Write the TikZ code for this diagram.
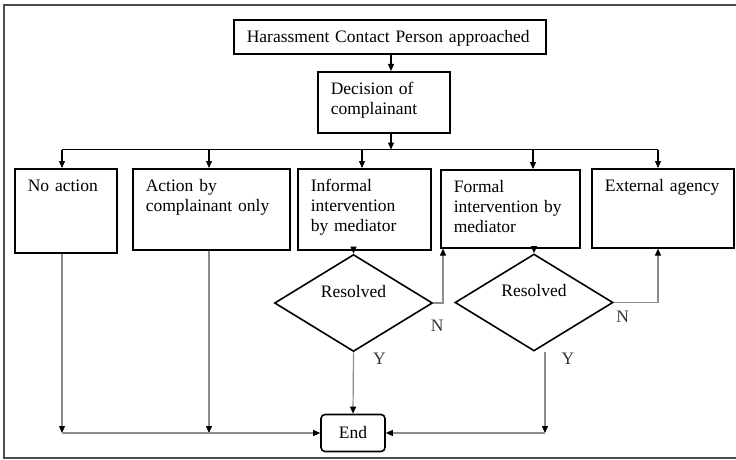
\documentclass[tikz,border=0pt]{standalone}
\usepackage{fontspec}
\setmainfont{Liberation Serif}
\usepackage{tikz}
\usetikzlibrary{arrows.meta,shapes.geometric,calc}
\definecolor{lineDraw}{HTML}{000000}
\definecolor{fadeDraw}{HTML}{8C8C8C}
\definecolor{frameDraw}{HTML}{4D4D4D}
\tikzset{
  font=\fontsize{17.5pt}{20pt}\selectfont,
  box/.style    ={draw=lineDraw, line width=1.6pt, anchor=north west, align=left,
                  inner xsep=13pt, inner ysep=0pt, text height=23pt},
  endbox/.style ={draw=lineDraw, line width=1.6pt, rounded corners=4pt,
                  minimum width=64pt, minimum height=37pt, inner sep=0pt},
  choice/.style ={diamond, draw=lineDraw, line width=1.6pt, aspect=1.63, inner sep=0pt,
                  minimum width=158pt, minimum height=97pt, text height=12pt, text depth=24pt},
  bus/.style    ={draw=lineDraw, line width=1.2pt},
  arr/.style    ={-{Triangle[length=7pt,width=6pt]}, line width=1.2pt},
  farr/.style   ={-{Triangle[length=7pt,width=6pt,color=black]}, draw=fadeDraw, line width=1.2pt},
  lbl/.style    ={inner sep=0pt, text=black!80},
  frame/.style  ={draw=frameDraw, line width=2.2pt},
}

\begin{document}
\begin{tikzpicture}[x=1pt,y=-1pt]
  \useasboundingbox (0,0) rectangle (736,460);
  \draw[frame] (740,5) -- (4,5) -- (4,458) -- (740,458);

  % first contact and decision
  \node[box, text width=286pt, text depth=11pt] (hcp) at (233,19)  {Harassment Contact Person approached};
  \node[box, text width=106pt, text depth=38pt] (dec) at (317,71)  {Decision of\\complainant};

  % bus and the five options
  \coordinate (bd) at (391,149.5);
  \coordinate (b1) at (62,149.5);
  \coordinate (b2) at (209,149.5);
  \coordinate (b3) at (362,149.5);
  \coordinate (b4) at (533,149.5);
  \coordinate (b5) at (658,149.5);
  \node[box, text width=76pt,  text depth=61pt] (noact)  at (14,168)  {No action};
  \node[box, text width=131pt, text depth=58pt] (act)    at (132,168) {Action by\\complainant only};
  \node[box, text width=107pt, text depth=58pt] (inf)    at (297,168) {Informal\\intervention\\by mediator};
  \node[box, text width=113pt, text depth=55pt] (formal) at (440,169) {Formal\\intervention by\\mediator};
  \node[box, text width=116pt, text depth=56pt] (ext)    at (591,168) {External agency};

  \draw[arr] (hcp.south -| bd) -- (dec.north -| bd);
  \draw[arr] (dec.south -| bd) -- (bd);
  \draw[bus] (b1) -- (b5);
  \foreach \b/\n in {b1/noact, b2/act, b3/inf, b4/formal, b5/ext}
    \draw[arr] (\b) -- (\b |- \n.north);

  % mediation outcomes
  \node[choice] (res1) at (353.5,303) {Resolved};
  \node[choice] (res2) at (534,302.5) {Resolved};
  \draw[arr] (res1.north |- inf.south) -- (res1.north);
  \draw[arr] (res2.north |- formal.south) -- (res2.north);

  \node[endbox] (end) at (353,433) {End};
  \coordinate (j1) at (62,433);
  \coordinate (j2) at (209,433);
  \coordinate (j3) at (545,433);

  \draw[farr] (b1 |- noact.south) -- (j1);
  \draw[farr] (b2 |- act.south) -- (j2);
  \draw[farr] (j1) -- (end);
  \draw[farr] (res1.south) -- node[lbl, pos=0.1, right=19pt] {Y} (end.north);
  \draw[farr] (res2.south -| j3) -- node[lbl, pos=0.08, right=16pt] {Y} (j3);
  \draw[farr] (j3) -- (end);
  \draw[farr] (res1.east) -| node[lbl, pos=0.2, below=16pt] {N} ([xshift=3pt]formal.south west);
  \draw[farr] (res2.east) -| node[lbl, pos=0.1, below=8pt] {N} (b5 |- ext.south);
\end{tikzpicture}
\end{document}
